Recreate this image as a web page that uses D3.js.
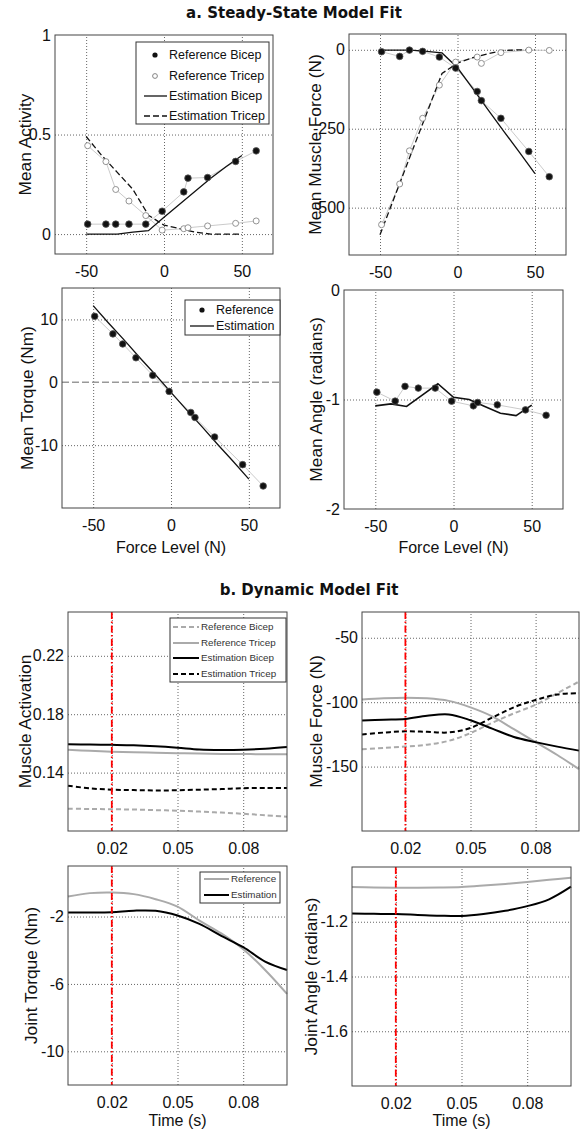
<!DOCTYPE html>
<html><head><meta charset="utf-8">
<script src="https://cdn.jsdelivr.net/npm/d3@7"></script>
<style>
body{margin:0;background:#fff;}
svg{display:block;font-family:"Liberation Sans",Arial,sans-serif;}
</style></head><body>
<svg id="chart" width="581" height="1134"></svg>
<script>
// ---------- DATA ----------
// Steady-state: reference force levels (N) and estimation force levels (N)
const forceRef = [-49, -37.3, -31, -22.5, -11.7, -1.2, 12.7, 15.4, 28, 46, 59.2];
const forceEst = [-50, -40, -30, -20, -10, 0, 10, 20, 30, 40, 50];
// Mean activity
const actRefBicep  = [0.05, 0.05, 0.05, 0.05, 0.05, 0.115, 0.212, 0.281, 0.284, 0.365, 0.418];
const actRefTricep = [0.444, 0.364, 0.224, 0.166, 0.093, 0.020, 0.027, 0.032, 0.041, 0.054, 0.066];
const actEstBicep  = [0, 0, 0, 0.01, 0.017, 0.085, 0.15, 0.215, 0.28, 0.34, 0.395];
const actEstTricep = [0.49, 0.395, 0.31, 0.225, 0.095, 0.045, 0.028, 0.01, 0, 0, 0];
// Mean muscle force
const mfRefBicep  = [-6, -21, -1, -5, -23, -58, -132, -161, -217, -322, -402];
const mfRefTricep = [-554, -425, -320, -217, -112, -39, -23, -43, -9, -1, -2];
const mfEstBicep  = [-1, -1, -1, -5, -10, -57, -124, -192, -259, -325, -392];
const mfEstTricep = [-586, -458, -330, -203, -75, -42, -25, -12, -2, 0, 0];
// Mean torque
const torqueRef = [10.5, 7.7, 6.1, 3.9, 1.1, -1.45, -4.8, -5.6, -8.7, -13.1, -16.5];
const torqueEst = [12.2, 9.4, 6.7, 3.9, 1.2, -1.6, -4.4, -7.1, -9.9, -12.6, -15.4];
// Mean angle
const angleRef = [-0.933, -1.015, -0.88, -0.896, -0.896, -1.015, -1.058, -1.027, -1.049, -1.095, -1.144];
const angleEst = [-1.058, -1.04, -1.064, -0.96, -0.856, -0.98, -1.0, -1.064, -1.125, -1.147, -1.052];

// Dynamic: time (s)
const time = [0, 0.01, 0.02, 0.03, 0.04, 0.05, 0.06, 0.07, 0.08, 0.09, 0.1];
const markerTime = 0.02;
const dynActRefBicep  = [0.1153, 0.1151, 0.1149, 0.1147, 0.1143, 0.1139, 0.1133, 0.1126, 0.1118, 0.1108, 0.1098];
const dynActRefTricep = [0.1557, 0.1549, 0.1543, 0.1539, 0.1536, 0.1533, 0.1530, 0.1528, 0.1527, 0.1526, 0.1526];
const dynActEstBicep  = [0.1595, 0.1592, 0.1590, 0.1587, 0.1580, 0.1570, 0.1558, 0.1555, 0.1557, 0.1564, 0.1576];
const dynActEstTricep = [0.1310, 0.1292, 0.1283, 0.1280, 0.1278, 0.1279, 0.1283, 0.1287, 0.1293, 0.1295, 0.1294];
const dynForceRefBicep  = [-136.6, -135.5, -134.5, -133, -130, -124, -116, -108.7, -102, -93, -84];
const dynForceRefTricep = [-98, -97, -96.5, -97, -99, -104, -111, -121, -131, -141, -152];
const dynForceEstBicep  = [-114.3, -113.6, -113, -110.5, -109.5, -114, -120.5, -127, -131, -134.5, -137.6];
const dynForceEstTricep = [-125, -123.6, -122.6, -123, -123.5, -120, -112, -104, -98.3, -94, -93];
const dynTorqueRef = [-0.81, -0.61, -0.57, -0.67, -0.97, -1.41, -2.24, -3.0, -3.94, -5.17, -6.59];
const dynTorqueEst = [-1.76, -1.76, -1.74, -1.65, -1.66, -1.94, -2.44, -3.15, -3.82, -4.67, -5.17];
const dynAngleRef = [-1.073, -1.075, -1.076, -1.076, -1.075, -1.073, -1.068, -1.062, -1.055, -1.047, -1.039];
const dynAngleEst = [-1.170, -1.171, -1.172, -1.175, -1.178, -1.179, -1.172, -1.160, -1.143, -1.118, -1.072];

// Tick values
const forceTicks = [-50, 0, 50];
const timeTicks = [0.02, 0.05, 0.08];
const actTicks = [0, 0.5, 1];
const mfTicks = [-500, -250, 0];
const torqueTicks = [-10, 0, 10];
const angleTicks = [-2, -1, 0];
const dynActTicks = [0.14, 0.18, 0.22];
const dynForceTicks = [-150, -100, -50];
const dynTorqueTicks = [-10, -6, -2];
const dynAngleTicks = [-1.6, -1.4, -1.2];

// ---------- DRAWING ----------
const svg = d3.select("#chart");
svg.append("rect").attr("width", 581).attr("height", 1134).attr("fill", "#fff");
const FONT = "Liberation Sans, Arial, sans-serif";
const GRAYREF = "#aaaaaa";

svg.append("text").attr("x", 294).attr("y", 18).attr("text-anchor", "middle")
  .attr("font-family", "DejaVu Sans").attr("font-weight", "bold").attr("font-size", 15)
  .attr("fill", "#111").text("a. Steady-State Model Fit");
svg.append("text").attr("x", 309).attr("y", 595).attr("text-anchor", "middle")
  .attr("font-family", "DejaVu Sans").attr("font-weight", "bold").attr("font-size", 15)
  .attr("fill", "#111").text("b. Dynamic Model Fit");

function panel(c) {
  const g = svg.append("g");
  const x = d3.scaleLinear().domain(c.xDomain).range([c.left, c.right]);
  const y = d3.scaleLinear().domain(c.yDomain).range([c.bottom, c.top]);
  const w = c.right - c.left, h = c.bottom - c.top;
  // grid
  const gx = g.append("g").attr("transform", `translate(0,${c.bottom})`)
    .call(d3.axisBottom(x).tickValues(c.xTicks).tickSize(-h).tickFormat(""));
  gx.select(".domain").remove();
  gx.selectAll("line").attr("stroke", "#666").attr("stroke-dasharray", "1,2");
  const innerY = c.yTicks.filter(v => v !== c.yDomain[0] && v !== c.yDomain[1] && !(c.noGridY || []).includes(v));
  const gy = g.append("g").attr("transform", `translate(${c.left},0)`)
    .call(d3.axisLeft(y).tickValues(innerY).tickSize(-w).tickFormat(""));
  gy.select(".domain").remove();
  gy.selectAll("line").attr("stroke", "#666").attr("stroke-dasharray", "1,2");
  // tick labels
  const ax = g.append("g").attr("transform", `translate(0,${c.bottom})`)
    .call(d3.axisBottom(x).tickValues(c.xTicks).tickSize(0).tickPadding(12).tickFormat(d => String(d)));
  ax.select(".domain").remove();
  ax.attr("font-size", 16).attr("font-family", FONT);
  ax.selectAll("text").attr("fill", "#111");
  const ay = g.append("g").attr("transform", `translate(${c.left},0)`)
    .call(d3.axisLeft(y).tickValues(c.yTicks).tickSize(0).tickPadding(4).tickFormat(d => String(d)));
  ay.select(".domain").remove();
  ay.attr("font-size", 16).attr("font-family", FONT);
  ay.selectAll("text").attr("fill", "#111");
  // axis labels
  if (c.xLabel) g.append("text").attr("x", (c.left + c.right) / 2).attr("y", c.xLabelY)
    .attr("text-anchor", "middle").attr("font-size", 16).attr("fill", "#111").text(c.xLabel);
  g.append("text").attr("transform", `translate(${c.yLabelX},${(c.top + c.bottom) / 2}) rotate(-90)`)
    .attr("text-anchor", "middle").attr("font-size", 17.3).attr("fill", "#111").text(c.yLabel);
  const plot = g.append("g");
  c.draw(plot, x, y);
  // box
  g.append("rect").attr("x", c.left).attr("y", c.top).attr("width", w).attr("height", h)
    .attr("fill", "none").attr("stroke", "#444").attr("stroke-width", 1);
  if (c.legend) c.legend(g);
}

function lineXY(plot, xs, ys, x, y, opts) {
  const data = xs.map((v, i) => [v, ys[i]]);
  const gen = d3.line().x(d => x(d[0])).y(d => y(d[1])).curve(opts.curve || d3.curveLinear);
  plot.append("path").datum(data).attr("d", gen).attr("fill", "none")
    .attr("stroke", opts.color).attr("stroke-width", opts.width || 1)
    .attr("stroke-dasharray", opts.dash || null);
}
function dots(plot, xs, ys, x, y, filled) {
  plot.append("g").selectAll("circle").data(xs.map((v, i) => [v, ys[i]])).join("circle")
    .attr("cx", d => x(d[0])).attr("cy", d => y(d[1]))
    .attr("r", filled ? 3.3 : 3)
    .attr("fill", filled ? "#111" : "#fff")
    .attr("stroke", filled ? "#555" : "#888").attr("stroke-width", filled ? 0.8 : 0.9);
}
function legendBox(g, x0, y0, x1, y1) {
  g.append("rect").attr("x", x0).attr("y", y0).attr("width", x1 - x0).attr("height", y1 - y0)
    .attr("fill", "#fff").attr("stroke", "#333").attr("stroke-width", 1);
}
function legText(g, x, y, t, size, col) {
  g.append("text").attr("x", x).attr("y", y).attr("dy", "0.35em").attr("font-size", size)
    .attr("fill", col || "#111").text(t);
}
function legLine(g, x0, x1, y, col, w, dash) {
  g.append("line").attr("x1", x0).attr("x2", x1).attr("y1", y).attr("y2", y)
    .attr("stroke", col).attr("stroke-width", w).attr("stroke-dasharray", dash || null);
}
function redMarker(plot, x, c) {
  plot.append("line").attr("x1", x(markerTime)).attr("x2", x(markerTime))
    .attr("y1", c.top).attr("y2", c.bottom).attr("stroke", "#ff0000").attr("stroke-width", 1.8)
    .attr("stroke-dasharray", "7,2.5,1.5,2.5");
}

const SMOOTH = d3.curveCatmullRom;

// Panel 1: Mean Activity
panel({left: 55, right: 273, top: 35, bottom: 254, xDomain: [-70, 70], yDomain: [-0.1, 1],
  xTicks: forceTicks, yTicks: actTicks, yLabel: "Mean Activity", yLabelX: 31,
  draw(p, x, y) {
    lineXY(p, forceRef, actRefTricep, x, y, {color: "#c4c4c4", width: 0.9});
    lineXY(p, forceRef, actRefBicep, x, y, {color: "#c4c4c4", width: 0.9});
    lineXY(p, forceEst, actEstBicep, x, y, {color: "#111", width: 1.3});
    lineXY(p, forceEst, actEstTricep, x, y, {color: "#111", width: 1.3, dash: "6,3"});
    dots(p, forceRef, actRefTricep, x, y, false);
    dots(p, forceRef, actRefBicep, x, y, true);
  },
  legend(g) {
    legendBox(g, 136, 42, 269, 124);
    g.append("circle").attr("cx", 155).attr("cy", 55).attr("r", 2.6).attr("fill", "#111");
    g.append("circle").attr("cx", 155).attr("cy", 76).attr("r", 2.4).attr("fill", "#fff").attr("stroke", "#777").attr("stroke-width", 0.9);
    legLine(g, 144, 167, 96, "#111", 1.3);
    legLine(g, 144, 167, 116, "#111", 1.3, "6,3");
    legText(g, 169, 55, "Reference Bicep", 12.5);
    legText(g, 169, 76, "Reference Tricep", 12.5);
    legText(g, 169, 96, "Estimation Bicep", 12.5);
    legText(g, 169, 116, "Estimation Tricep", 12.5);
  }});

// Panel 2: Mean Muscle Force
panel({left: 349, right: 566, top: 34, bottom: 255, xDomain: [-70, 70], yDomain: [-650, 50],
  xTicks: forceTicks, yTicks: mfTicks, yLabel: "Mean Muscle Force (N)", yLabelX: 321,
  draw(p, x, y) {
    lineXY(p, forceRef, mfRefTricep, x, y, {color: "#c4c4c4", width: 0.9});
    lineXY(p, forceRef, mfRefBicep, x, y, {color: "#c4c4c4", width: 0.9});
    lineXY(p, forceEst, mfEstBicep, x, y, {color: "#111", width: 1.3});
    lineXY(p, forceEst, mfEstTricep, x, y, {color: "#111", width: 1.3, dash: "6,3"});
    dots(p, forceRef, mfRefTricep, x, y, false);
    dots(p, forceRef, mfRefBicep, x, y, true);
  }});

// Panel 3: Mean Torque
panel({left: 62, right: 280, top: 288, bottom: 508, xDomain: [-70, 70], yDomain: [-20, 15],
  xTicks: forceTicks, yTicks: torqueTicks, noGridY: [0], yLabel: "Mean Torque (Nm)", yLabelX: 33,
  xLabel: "Force Level (N)", xLabelY: 553,
  draw(p, x, y) {
    p.append("line").attr("x1", x(-70)).attr("x2", x(70)).attr("y1", y(0)).attr("y2", y(0))
      .attr("stroke", "#999").attr("stroke-width", 1.5).attr("stroke-dasharray", "7,3");
    lineXY(p, forceRef, torqueRef, x, y, {color: "#c4c4c4", width: 0.9});
    lineXY(p, forceEst, torqueEst, x, y, {color: "#111", width: 1.3});
    dots(p, forceRef, torqueRef, x, y, true);
  },
  legend(g) {
    legendBox(g, 185, 300, 280, 335);
    g.append("circle").attr("cx", 202).attr("cy", 310).attr("r", 2.6).attr("fill", "#111");
    legLine(g, 190, 214, 326, "#111", 1.3);
    legText(g, 216, 310, "Reference", 12.5);
    legText(g, 216, 326, "Estimation", 12.5);
  }});

// Panel 4: Mean Angle
panel({left: 344, right: 563, top: 290, bottom: 509, xDomain: [-70, 70], yDomain: [-2, 0],
  xTicks: forceTicks, yTicks: angleTicks, yLabel: "Mean Angle (radians)", yLabelX: 322,
  xLabel: "Force Level (N)", xLabelY: 553,
  draw(p, x, y) {
    lineXY(p, forceRef, angleRef, x, y, {color: "#c4c4c4", width: 0.9});
    lineXY(p, forceEst, angleEst, x, y, {color: "#111", width: 1.6});
    dots(p, forceRef, angleRef, x, y, true);
  }});

// Panel 5: Muscle Activation (dynamic)
const c5 = {left: 68, right: 287, top: 612, bottom: 831, xDomain: [0, 0.1], yDomain: [0.10, 0.25],
  xTicks: timeTicks, yTicks: dynActTicks, yLabel: "Muscle Activation", yLabelX: 30.5};
c5.draw = (p, x, y) => {
  lineXY(p, time, dynActRefBicep, x, y, {color: GRAYREF, width: 2, dash: "5,3", curve: SMOOTH});
  lineXY(p, time, dynActRefTricep, x, y, {color: GRAYREF, width: 2, curve: SMOOTH});
  lineXY(p, time, dynActEstBicep, x, y, {color: "#000", width: 2, curve: SMOOTH});
  lineXY(p, time, dynActEstTricep, x, y, {color: "#000", width: 2, dash: "5,3", curve: SMOOTH});
  redMarker(p, x, c5);
};
c5.legend = g => {
  legendBox(g, 170, 618, 286, 682);
  legLine(g, 173, 199, 627, GRAYREF, 2, "5,3");
  legLine(g, 173, 199, 643, GRAYREF, 2);
  legLine(g, 173, 199, 658, "#000", 2);
  legLine(g, 173, 199, 674, "#000", 2, "5,3");
  legText(g, 201, 627, "Reference Bicep", 9.8, "#333");
  legText(g, 201, 643, "Reference Tricep", 9.8, "#333");
  legText(g, 201, 658, "Estimation Bicep", 9.8, "#333");
  legText(g, 201, 674, "Estimation Tricep", 9.8, "#333");
};
panel(c5);

// Panel 6: Muscle Force (dynamic)
const c6 = {left: 362, right: 579, top: 612, bottom: 831, xDomain: [0, 0.1], yDomain: [-200, -30],
  xTicks: timeTicks, yTicks: dynForceTicks, yLabel: "Muscle Force (N)", yLabelX: 322};
c6.draw = (p, x, y) => {
  lineXY(p, time, dynForceRefBicep, x, y, {color: GRAYREF, width: 2, dash: "5,3", curve: SMOOTH});
  lineXY(p, time, dynForceRefTricep, x, y, {color: GRAYREF, width: 2, curve: SMOOTH});
  lineXY(p, time, dynForceEstBicep, x, y, {color: "#000", width: 2, curve: SMOOTH});
  lineXY(p, time, dynForceEstTricep, x, y, {color: "#000", width: 2, dash: "5,3", curve: SMOOTH});
  redMarker(p, x, c6);
};
panel(c6);

// Panel 7: Joint Torque (dynamic)
const c7 = {left: 68, right: 287, top: 866, bottom: 1085, xDomain: [0, 0.1], yDomain: [-12, 1],
  xTicks: timeTicks, yTicks: dynTorqueTicks, yLabel: "Joint Torque (Nm)", yLabelX: 37,
  xLabel: "Time (s)", xLabelY: 1126};
c7.draw = (p, x, y) => {
  lineXY(p, time, dynTorqueRef, x, y, {color: GRAYREF, width: 2, curve: SMOOTH});
  lineXY(p, time, dynTorqueEst, x, y, {color: "#000", width: 2, curve: SMOOTH});
  redMarker(p, x, c7);
};
c7.legend = g => {
  legendBox(g, 200, 872, 280, 903);
  legLine(g, 204, 229, 879, GRAYREF, 2);
  legLine(g, 204, 229, 895, "#000", 2);
  legText(g, 231, 879, "Reference", 9.8, "#333");
  legText(g, 231, 895, "Estimation", 9.8, "#333");
};
panel(c7);

// Panel 8: Joint Angle (dynamic)
const c8 = {left: 352, right: 571, top: 867, bottom: 1086, xDomain: [0, 0.1], yDomain: [-1.8, -1.0],
  xTicks: timeTicks, yTicks: dynAngleTicks, yLabel: "Joint Angle (radians)", yLabelX: 317,
  xLabel: "Time (s)", xLabelY: 1126};
c8.draw = (p, x, y) => {
  lineXY(p, time, dynAngleRef, x, y, {color: GRAYREF, width: 2, curve: SMOOTH});
  lineXY(p, time, dynAngleEst, x, y, {color: "#000", width: 2, curve: SMOOTH});
  redMarker(p, x, c8);
};
panel(c8);
</script>
</body></html>
